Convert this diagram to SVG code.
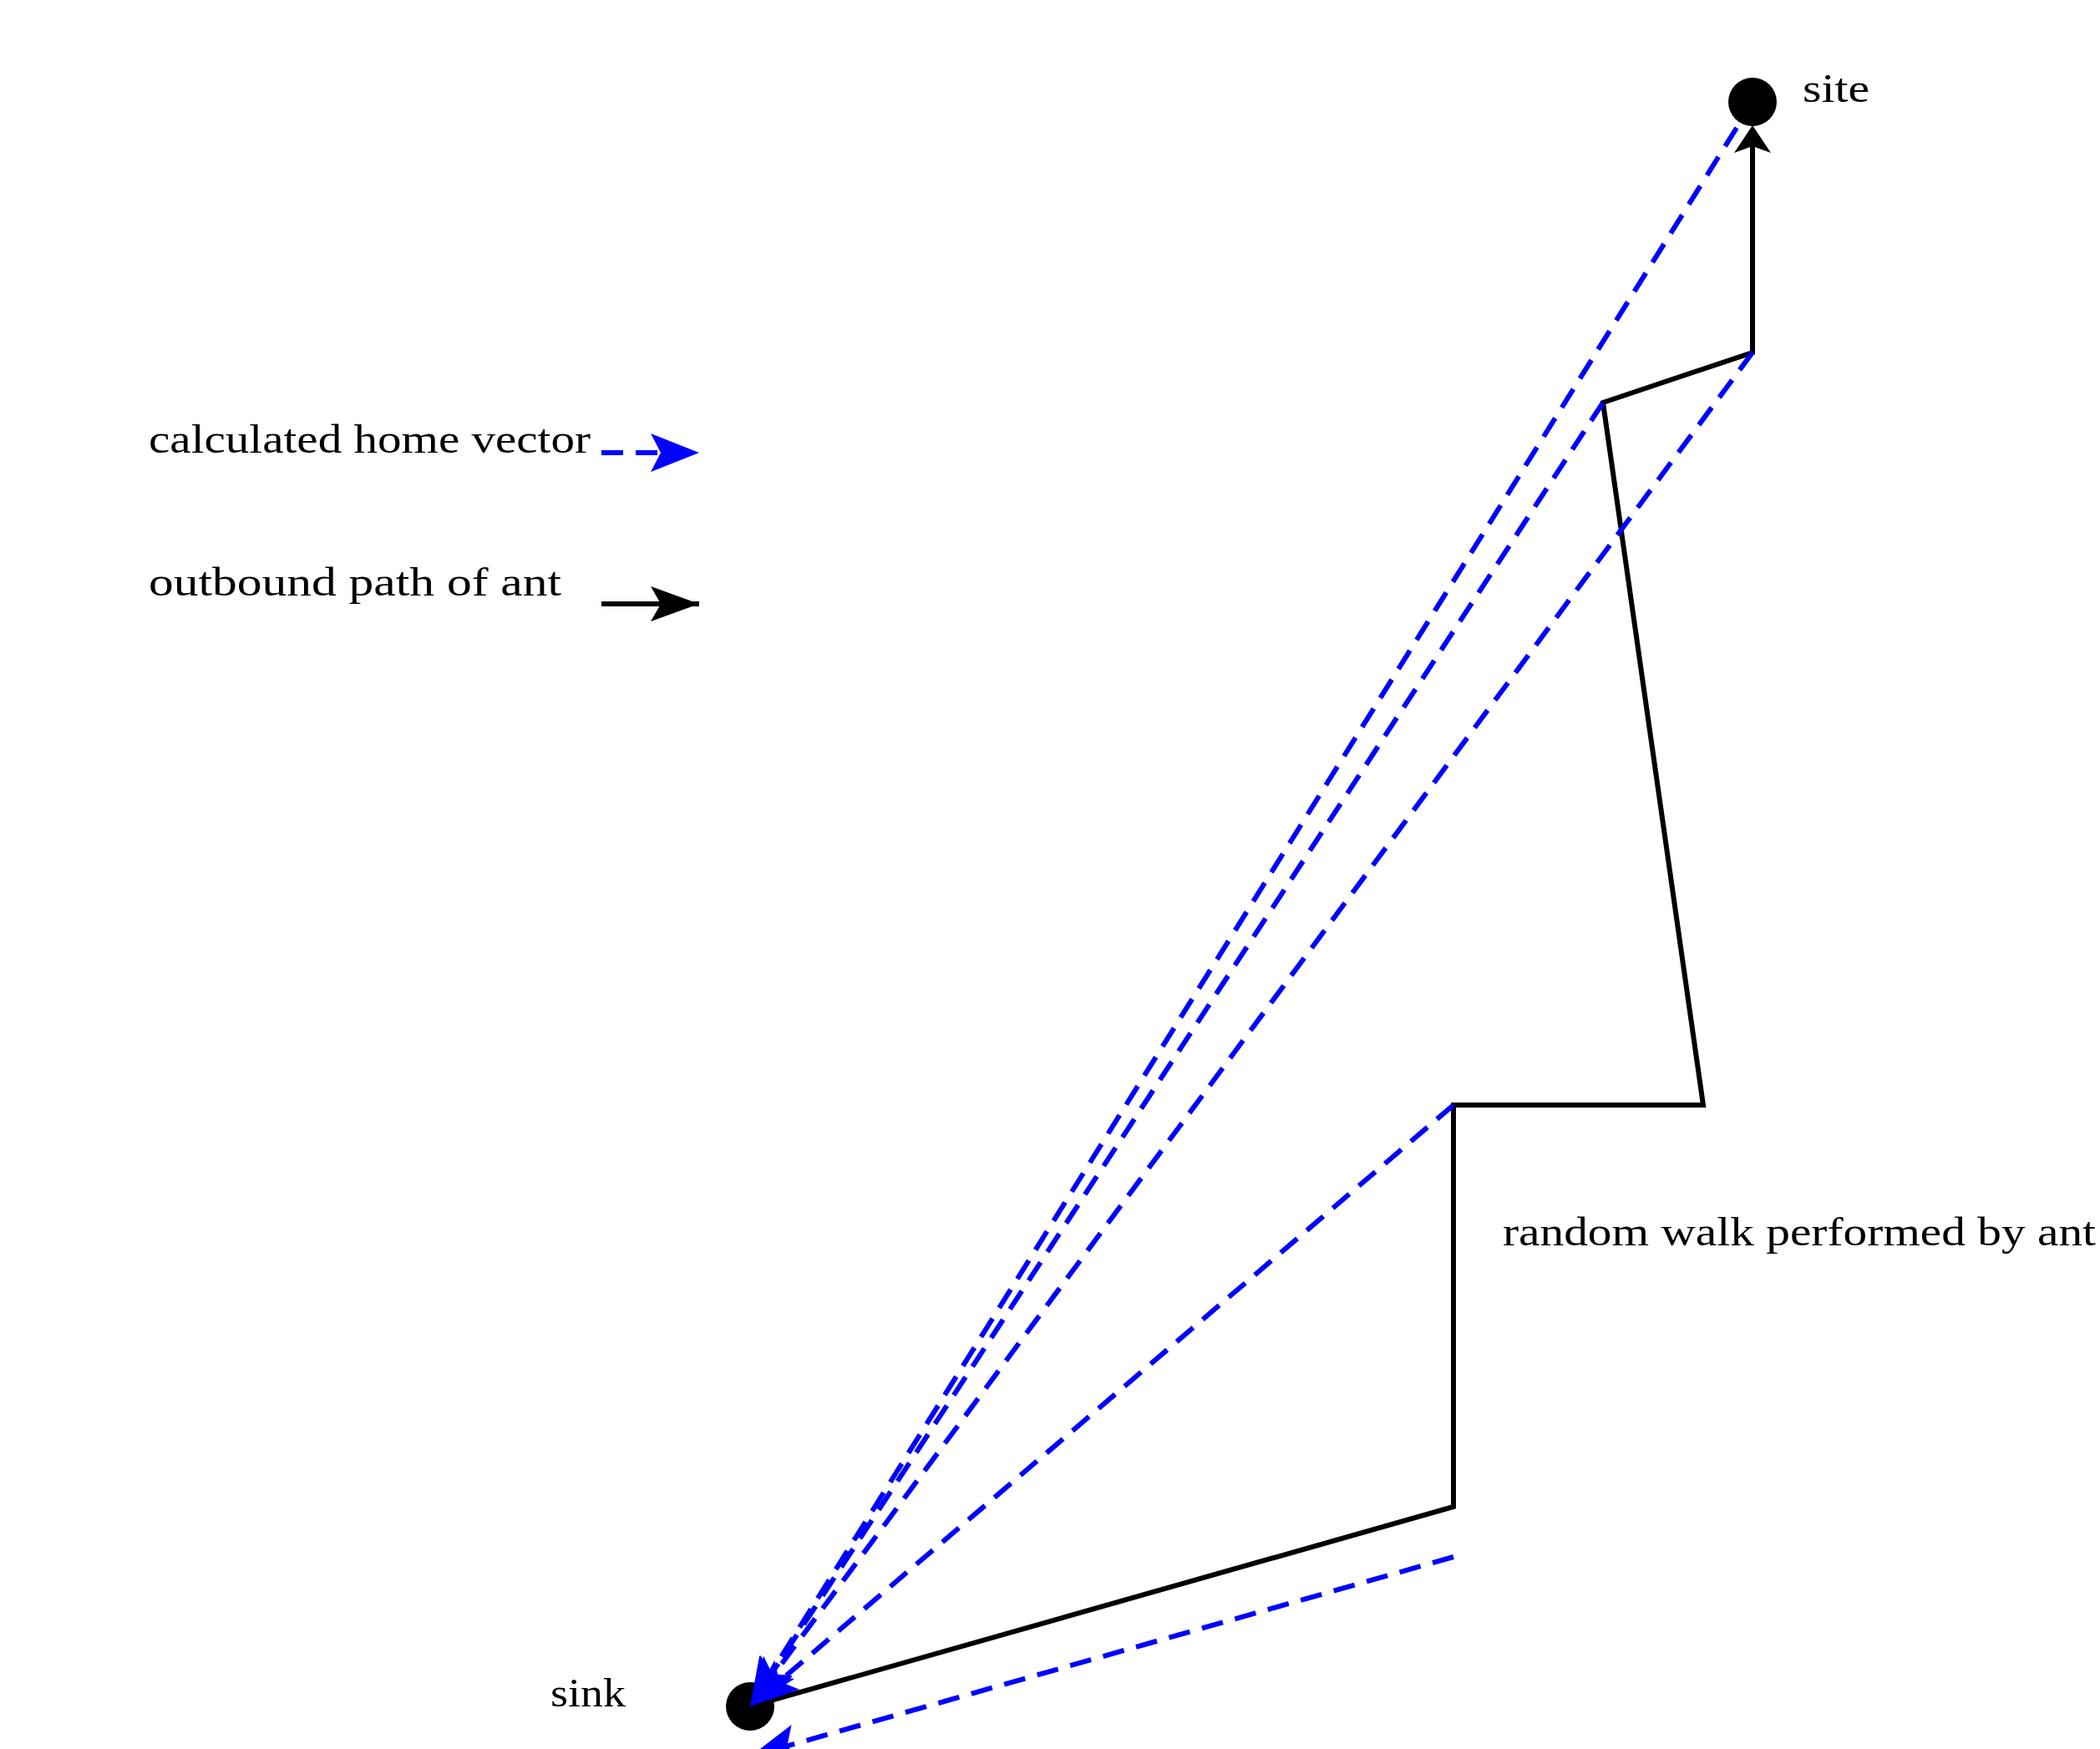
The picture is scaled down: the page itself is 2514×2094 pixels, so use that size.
<svg xmlns="http://www.w3.org/2000/svg" width="2514" height="2094" viewBox="0 0 2514 2094">
  <style>
    .lbl { font-family: "Liberation Serif", "DejaVu Serif", serif; font-size: 48px; fill: #000; }
    .walk { fill: none; stroke: #000; stroke-width: 6; stroke-linejoin: miter; }
    .home { fill: none; stroke: #0000ff; stroke-width: 6; stroke-dasharray: 26 15; }
    .dot { fill: #000; }
  </style>
  <defs>
    <marker id="blueHead" markerUnits="userSpaceOnUse" markerWidth="70" markerHeight="60" viewBox="0 -30 70 60" refX="12" refY="0" orient="auto" overflow="visible">
      <path d="M0,-23 L58,0 L0,23 L12,0 Z" fill="#0000ff"/>
    </marker>
    <marker id="blackHead" markerUnits="userSpaceOnUse" markerWidth="70" markerHeight="60" viewBox="0 -30 70 60" refX="12" refY="0" orient="auto" overflow="visible">
      <path d="M0,-21 L58,0 L0,21 L12,0 Z" fill="#000"/>
    </marker>
    <marker id="siteHead" markerUnits="userSpaceOnUse" markerWidth="40" markerHeight="50" viewBox="0 -25 40 50" refX="8" refY="0" orient="auto" overflow="visible">
      <path d="M0,-22 L33,0 L0,22 L8,0 Z" fill="#000"/>
    </marker>
  </defs>

  <g id="site">
    <circle class="dot" cx="2098" cy="122" r="29"/>
    <text class="lbl" x="2158" y="122" textLength="80" lengthAdjust="spacingAndGlyphs">site</text>
  </g>

  <g id="sink">
    <circle class="dot" cx="898" cy="2043" r="29"/>
    <text class="lbl" x="659" y="2043" textLength="90" lengthAdjust="spacingAndGlyphs">sink</text>
  </g>

  <g id="walk-label">
    <text class="lbl" x="1799" y="1491" textLength="710" lengthAdjust="spacingAndGlyphs">random walk performed by ant</text>
  </g>

  <g id="legend-home">
    <text class="lbl" x="178" y="542" textLength="529" lengthAdjust="spacingAndGlyphs">calculated home vector</text>
    <line class="home" x1="720" y1="542" x2="791" y2="542" marker-end="url(#blueHead)"/>
  </g>

  <g id="legend-outbound">
    <text class="lbl" x="178" y="713" textLength="494" lengthAdjust="spacingAndGlyphs">outbound path of ant</text>
    <line class="walk" x1="720" y1="723" x2="837" y2="723"/>
    <line class="walk" x1="720" y1="723" x2="791" y2="723" stroke="none" marker-end="url(#blackHead)"/>
  </g>

  <g id="connectors">
    <polyline class="walk" points="898,2043 1740,1804 1740,1323 2039,1323 1919,482 2098,422 2098,175" marker-end="url(#siteHead)"/>
    <line class="home" x1="1740" y1="1864" x2="942.3" y2="2090.4" marker-end="url(#blueHead)"/>
    <line class="home" x1="1740" y1="1323" x2="933.0" y2="2013.1" marker-end="url(#blueHead)"/>
    <line class="home" x1="1919" y1="482" x2="923.2" y2="2004.5" marker-end="url(#blueHead)"/>
    <line class="home" x1="2098" y1="422" x2="925.4" y2="2006.0" marker-end="url(#blueHead)"/>
    <line class="home" x1="2079" y1="153" x2="922.4" y2="2004.0" marker-end="url(#blueHead)"/>
  </g>
</svg>
